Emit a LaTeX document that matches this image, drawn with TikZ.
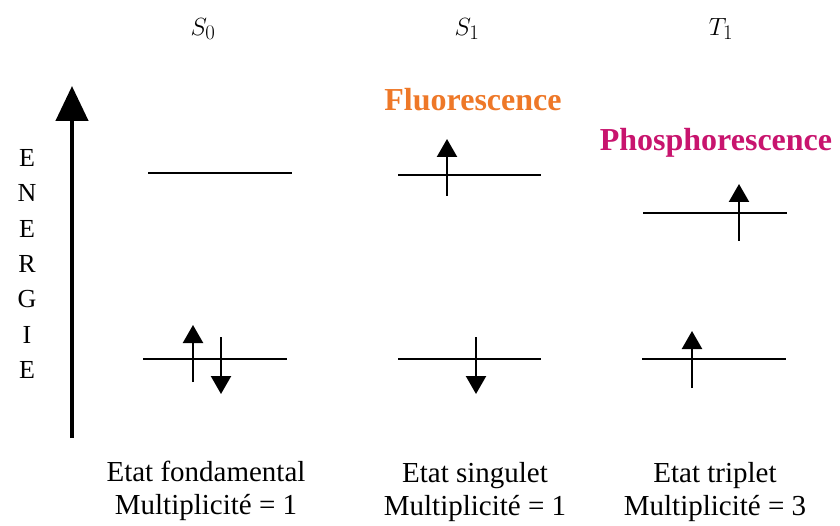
\documentclass[tikz,border=0pt]{standalone}
\usepackage{fontspec}
\setmainfont{LiberationSerif}[Extension=.ttf, UprightFont=*-Regular, BoldFont=*-Bold, ItalicFont=*-Italic, BoldItalicFont=*-BoldItalic]
\usetikzlibrary{arrows.meta}
\definecolor{fluo}{RGB}{238,120,40}
\definecolor{phospho}{RGB}{200,20,110}

\begin{document}
\begin{tikzpicture}[
  x=1pt, y=-1pt,
  niveau/.style={line width=2pt},
  spin/.style={line width=2.3pt, -{Triangle[width=20pt,length=18pt]}},
  axe/.style={line width=4.5pt, -{Triangle[width=32pt,length=35pt]}},
  etat/.style={font=\fontsize{29}{32}\selectfont, inner sep=0pt},
  lettre/.style={font=\fontsize{26}{30}\selectfont, inner sep=0pt},
  legende/.style={align=center, font=\fontsize{29}{33}\selectfont, inner sep=0pt},
  emission/.style={font=\fontsize{32}{36}\selectfont\bfseries, inner sep=0pt}
]
\useasboundingbox (0,0) rectangle (840,526);

% noms des etats
\node[etat] (s0) at (203,29) {$S_0$};
\node[etat] (s1) at (467,29) {$S_1$};
\node[etat] (t1) at (721,29) {$T_1$};

% axe des energies
\coordinate (bas) at (72,438);
\coordinate (haut) at (72,86);
\draw[axe] (bas) -- (haut);
\foreach \l [count=\i] in {E,N,E,R,G,I,E}
  \node[lettre] (en\i) at (27,{158+35.3*(\i-1)}) {\l};

% niveaux
\coordinate (s0a) at (148,173); \coordinate (s0b) at (292,173);
\coordinate (s0c) at (143,359); \coordinate (s0d) at (287,359);
\coordinate (s1a) at (398,175); \coordinate (s1b) at (541,175);
\coordinate (s1c) at (398,359); \coordinate (s1d) at (541,359);
\coordinate (t1a) at (643,213); \coordinate (t1b) at (787,213);
\coordinate (t1c) at (642,359); \coordinate (t1d) at (786,359);
\draw[niveau] (s0a) -- (s0b);
\draw[niveau] (s0c) -- (s0d);
\draw[niveau] (s1a) -- (s1b);
\draw[niveau] (s1c) -- (s1d);
\draw[niveau] (t1a) -- (t1b);
\draw[niveau] (t1c) -- (t1d);

% electrons
\coordinate (e1p) at (193,382); \coordinate (e1q) at (193,325);
\coordinate (e2p) at (221,337); \coordinate (e2q) at (221,394);
\coordinate (e3p) at (447,196); \coordinate (e3q) at (447,139);
\coordinate (e4p) at (476,337); \coordinate (e4q) at (476,394);
\coordinate (e5p) at (739,241); \coordinate (e5q) at (739,184);
\coordinate (e6p) at (692,388); \coordinate (e6q) at (692,331);
\draw[spin] (e1p) -- (e1q);
\draw[spin] (e2p) -- (e2q);
\draw[spin] (e3p) -- (e3q);
\draw[spin] (e4p) -- (e4q);
\draw[spin] (e5p) -- (e5q);
\draw[spin] (e6p) -- (e6q);

% emissions
\node[emission, text=fluo] (fluo) at (473,100) {Fluorescence};
\node[emission, text=phospho] (phospho) at (716,143) {Phosphorescence};

% legendes
\node[legende] (l0) at (206,491) {Etat fondamental\\Multiplicité = 1};
\node[legende] (l1) at (475,492) {Etat singulet\\Multiplicité = 1};
\node[legende] (l2) at (715,492) {Etat triplet\\Multiplicité = 3};
\end{tikzpicture}
\end{document}
